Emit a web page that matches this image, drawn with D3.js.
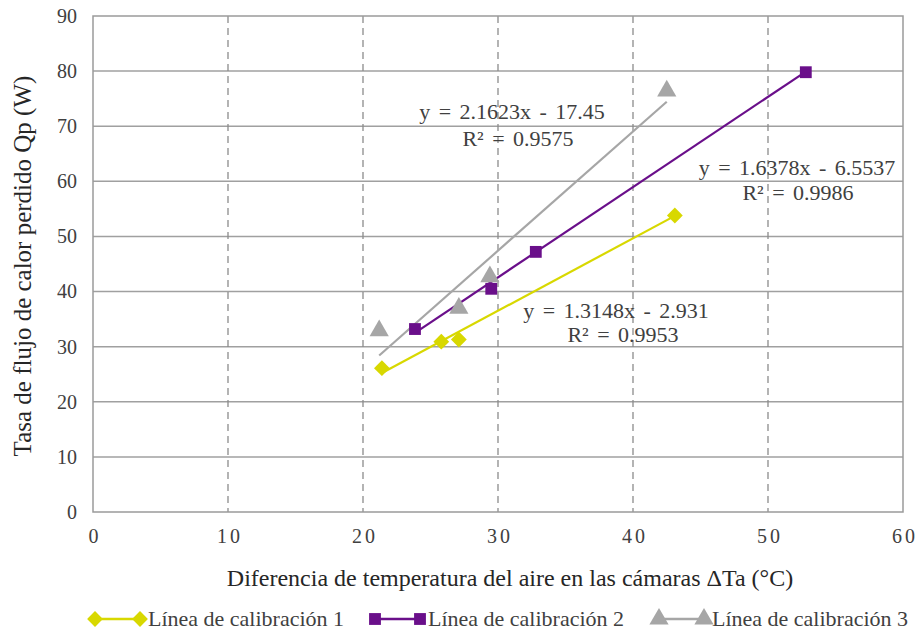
<!DOCTYPE html>
<html>
<head>
<meta charset="utf-8">
<script src="https://cdn.jsdelivr.net/npm/d3@7"></script>
</head>
<body style="margin:0; background:#fff">
<svg id="chart" width="919" height="632"></svg>
<script>
// data
const seriesNames = ["Línea de calibración 1", "Línea de calibración 2", "Línea de calibración 3"];
const s1x = [21.4, 25.8, 27.1, 43.1];
const s1y = [26.1, 30.9, 31.3, 53.8];
const s2x = [23.85, 29.5, 32.8, 52.8];
const s2y = [33.2, 40.5, 47.2, 79.8];
const s3x = [21.2, 27.1, 29.4, 42.5];
const s3y = [32.9, 37.0, 42.7, 76.4];
const slopes = [1.3148, 1.6378, 2.1623];
const intercepts = [-2.931, -6.5537, -17.45];
const eqLabels = ["y = 1.3148x  - 2.931", "y = 1.6378x - 6.5537", "y = 2.1623x - 17.45"];
const r2Labels = ["R² = 0.9953", "R² = 0.9986", "R² = 0.9575"];
const xTicks = [0, 10, 20, 30, 40, 50, 60];
const yTicks = [0, 10, 20, 30, 40, 50, 60, 70, 80, 90];

const colors = ["#d8d800", "#6a0f8a", "#a6a6a6"];
const serif = "'Liberation Serif'";

// marker shapes: diamond is a square turned 45 degrees
const markerPath = [
  d3.symbol().type(d3.symbolSquare).size(125)(),
  d3.symbol().type(d3.symbolSquare).size(140)(),
  d3.symbol().type(d3.symbolTriangle).size(160)()
];
const markerRot = [45, 0, 0];

const svg = d3.select("#chart");
const margin = {top: 16, right: 16, bottom: 120, left: 93};
const width = 919 - margin.left - margin.right;
const height = 632 - margin.top - margin.bottom;

const x = d3.scaleLinear().domain([0, 60]).range([0, width]);
const y = d3.scaleLinear().domain([0, 90]).range([height, 0]);

const g = svg.append("g")
    .attr("transform", "translate(" + margin.left + "," + margin.top + ")");

// horizontal gridlines (solid)
g.append("g")
    .selectAll("line")
    .data(yTicks.slice(1, -1))
    .enter()
    .append("line")
    .attr("x1", 0)
    .attr("x2", width)
    .attr("y1", d => y(d))
    .attr("y2", d => y(d))
    .attr("stroke", "#a0a0a0")
    .attr("stroke-width", 1.5);

// vertical gridlines (dashed)
g.append("g")
    .selectAll("line")
    .data(xTicks.slice(1, -1))
    .enter()
    .append("line")
    .attr("x1", d => x(d))
    .attr("x2", d => x(d))
    .attr("y1", 0)
    .attr("y2", height)
    .attr("stroke", "#8c8c8c")
    .attr("stroke-width", 1.3)
    .attr("stroke-dasharray", "7,5");

// frame
g.append("rect")
    .attr("width", width)
    .attr("height", height)
    .attr("fill", "none")
    .attr("stroke", "#9a9a9a")
    .attr("stroke-width", 1.5);

// axes
const yAxis = g.append("g")
    .call(d3.axisLeft(y).tickValues(yTicks).tickSize(0).tickPadding(16));
const xAxis = g.append("g")
    .attr("transform", "translate(0," + height + ")")
    .call(d3.axisBottom(x).tickValues(xTicks).tickSize(0).tickPadding(17));
[xAxis, yAxis].forEach(a => {
  a.attr("font-family", serif).attr("font-size", 20);
  a.select(".domain").remove();
  a.selectAll("text")
      .attr("font-family", serif)
      .attr("font-size", 20)
      .attr("fill", "#404040");
});
xAxis.selectAll("text").attr("letter-spacing", "3px").attr("dx", "1.5px");

// trendlines
const xs = [s1x, s2x, s3x];
const ys = [s1y, s2y, s3y];
xs.forEach((sx, i) => {
  const x0 = d3.min(sx), x1 = d3.max(sx);
  g.append("line")
      .attr("x1", x(x0))
      .attr("x2", x(x1))
      .attr("y1", y(slopes[i] * x0 + intercepts[i]))
      .attr("y2", y(slopes[i] * x1 + intercepts[i]))
      .attr("stroke", colors[i])
      .attr("stroke-width", 2.2);
});

// markers
xs.forEach((sx, i) => {
  g.append("g")
      .selectAll("path")
      .data(sx.map((v, j) => [v, ys[i][j]]))
      .enter()
      .append("path")
      .attr("d", markerPath[i])
      .attr("transform", d => "translate(" + x(d[0]) + "," + y(d[1]) + ") rotate(" + markerRot[i] + ")")
      .attr("fill", colors[i]);
});

// equation labels
const eqPos = [[616, 318, 623, 342], [797, 175, 798, 200], [512, 119, 518, 146]];
eqPos.forEach((p, i) => {
  svg.append("text")
      .attr("x", p[0]).attr("y", p[1])
      .attr("text-anchor", "middle")
      .attr("font-family", serif)
      .attr("font-size", 22)
      .attr("word-spacing", "3px")
      .attr("fill", "#404040")
      .text(eqLabels[i]);
  svg.append("text")
      .attr("x", p[2]).attr("y", p[3])
      .attr("text-anchor", "middle")
      .attr("font-family", serif)
      .attr("font-size", 22)
      .attr("word-spacing", "3px")
      .attr("fill", "#404040")
      .text(r2Labels[i]);
});

// axis titles
svg.append("text")
    .attr("x", 510)
    .attr("y", 586)
    .attr("text-anchor", "middle")
    .attr("font-family", serif)
    .attr("font-size", 24)
    .attr("fill", "#262626")
    .text("Diferencia de temperatura del aire en las cámaras ΔTa (°C)");

svg.append("text")
    .attr("transform", "translate(31,266) rotate(-90)")
    .attr("text-anchor", "middle")
    .attr("font-family", serif)
    .attr("font-size", 25)
    .attr("fill", "#262626")
    .text("Tasa de flujo de calor perdido Qp (W)");

// legend
const legendX = [95, 375, 659];
const legend = svg.append("g")
    .selectAll("g")
    .data(seriesNames)
    .enter()
    .append("g")
    .attr("transform", (d, i) => "translate(" + legendX[i] + "," + 619 + ")");

legend.append("line")
    .attr("x1", 0).attr("x2", 45)
    .attr("y1", 0).attr("y2", 0)
    .attr("stroke", (d, i) => colors[i])
    .attr("stroke-width", 2.5);
legend.append("path")
    .attr("d", (d, i) => markerPath[i])
    .attr("transform", (d, i) => "rotate(" + markerRot[i] + ")")
    .attr("fill", (d, i) => colors[i]);
legend.append("path")
    .attr("d", (d, i) => markerPath[i])
    .attr("transform", (d, i) => "translate(45,0) rotate(" + markerRot[i] + ")")
    .attr("fill", (d, i) => colors[i]);
legend.append("text")
    .attr("x", 53)
    .attr("y", 7)
    .attr("font-family", serif)
    .attr("font-size", 22)
    .attr("fill", "#404040")
    .text(d => d);
</script>
</body>
</html>
